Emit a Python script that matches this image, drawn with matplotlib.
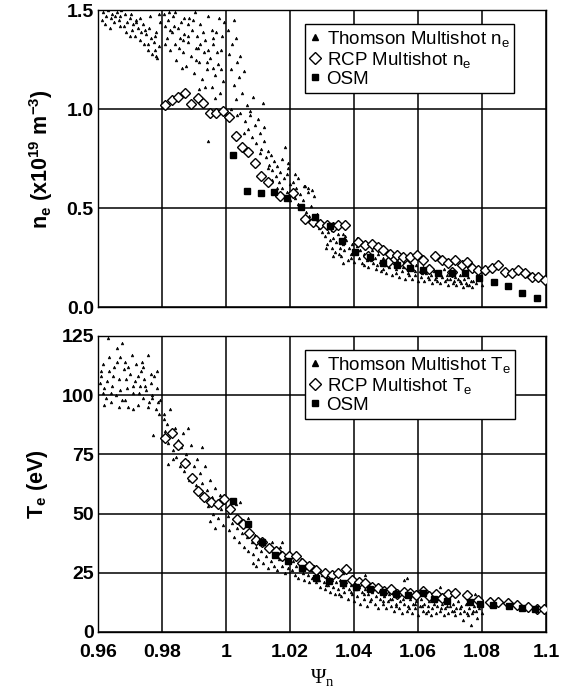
import matplotlib
matplotlib.use("Agg")
import numpy as np
import matplotlib.pyplot as plt
from matplotlib.lines import Line2D

plt.rcParams['font.family'] = ['Liberation Sans', 'DejaVu Sans']
plt.rcParams['mathtext.default'] = 'regular'

# ---- density panel data (psi_n, n_e) ----
ts_ne_psi = [0.9615, 0.9625, 0.963, 0.964, 0.9645, 0.965, 0.966, 0.9665, 0.967, 0.968, 0.9685, 0.969, 0.970, 0.9705,
             0.971, 0.9715, 0.972, 0.9725, 0.973, 0.9735, 0.974, 0.9745, 0.975, 0.9755, 0.976, 0.9765, 0.977, 0.9775,
             0.978, 0.9785, 0.979, 0.9795, 0.9699, 0.9777, 0.978, 0.9756,
             0.9805, 0.981, 0.9815, 0.982, 0.9825, 0.983, 0.9835, 0.984, 0.9845, 0.985, 0.9855, 0.986, 0.9865, 0.987,
             0.9875, 0.988, 0.9885, 0.989, 0.9895, 0.990, 0.9905, 0.991, 0.9915, 0.992, 0.9925, 0.993, 0.9935, 0.994,
             0.9945, 0.995, 0.9955, 0.996, 0.9965, 0.997, 0.9975, 0.998, 0.9985, 0.999, 0.9995, 0.9825, 0.9865, 0.9905,
             0.9945, 0.9985, 0.984, 0.988, 0.992, 0.996, 0.9915, 0.9955, 0.9965, 0.9933, 0.9943,
             1.0005, 1.001, 1.0015, 1.002, 1.0025, 1.003, 1.0035, 1.004, 1.0045, 1.005, 1.0055, 1.006, 1.0065, 1.007,
             1.0075, 1.008, 1.0085, 1.009, 1.0095, 1.010, 1.0015, 1.0035, 1.0055, 1.0075, 1.0045, 1.0025, 1.003,
             1.0105, 1.011, 1.0117, 1.012, 1.0125, 1.013, 1.0135, 1.014, 1.0145, 1.015, 1.0155, 1.016, 1.0165, 1.017,
             1.0175, 1.018, 1.0185, 1.019, 1.0195, 1.020, 1.0175, 1.016, 1.0145, 1.013, 1.0185, 1.019, 1.020, 1.0195,
             1.0105, 1.012,
             1.0205, 1.021, 1.0215, 1.022, 1.0225, 1.023, 1.0235, 1.024, 1.0245, 1.025, 1.0255, 1.026, 1.0265, 1.027,
             1.0275, 1.028, 1.0285, 1.029, 1.0295, 1.030, 1.0215, 1.0225, 1.027, 1.0247, 1.0257,
             1.031, 1.0315, 1.032, 1.0325, 1.033, 1.0335, 1.034, 1.0345, 1.035, 1.0355, 1.036, 1.0365, 1.037, 1.0375,
             1.038, 1.0385, 1.039, 1.0395, 1.040, 1.0405, 1.041, 1.0415, 1.042, 1.0425, 1.043, 1.0435, 1.044, 1.0445,
             1.045, 1.0455, 1.046, 1.0465, 1.047, 1.0475, 1.048, 1.0485, 1.049, 1.0495, 1.050, 1.0505, 1.051, 1.0515,
             1.052, 1.0525, 1.053, 1.0535, 1.054, 1.0545, 1.055, 1.0555, 1.056, 1.0565, 1.057, 1.0575, 1.058, 1.0585,
             1.059, 1.0595, 1.060, 1.0605, 1.061, 1.0615, 1.062, 1.0625, 1.063, 1.0635, 1.064, 1.0645, 1.065, 1.0655,
             1.066, 1.0665, 1.067, 1.0675, 1.068, 1.0685, 1.069, 1.0695, 1.070, 1.0705, 1.071, 1.0715, 1.072, 1.0725,
             1.073, 1.0735, 1.074, 1.0745, 1.075, 1.0755, 1.076, 1.0765, 1.077, 1.078, 1.079, 1.080, 1.0335, 1.0365,
             1.041, 1.046, 1.051, 1.0365,
             0.9612, 0.9622, 0.9638, 0.9652, 0.9668, 0.9672, 0.9688, 0.9702, 0.9718, 0.9732, 0.9748, 0.9762, 0.9778,
             0.9792, 0.9808, 0.9822, 0.9838, 0.9852, 0.9868, 0.9882, 0.9898, 0.9912, 0.9928, 0.9942, 0.9958, 0.9972,
             0.9988, 0.9978, 0.9862, 0.9902,
             1.0312, 1.0332, 1.0352, 1.0372, 1.0392, 1.0412, 1.0432, 1.0452, 1.0472, 1.0492, 1.0512, 1.0532, 1.0552,
             1.0572, 1.0592, 1.0612, 1.0632, 1.0652, 1.0672, 1.0692, 1.0712, 1.0732, 1.0752, 1.0772]
ts_ne_val = [1.49, 1.47, 1.50, 1.46, 1.48, 1.44, 1.49, 1.45, 1.47, 1.42, 1.48, 1.44, 1.46, 1.40,
             1.43, 1.37, 1.45, 1.41, 1.35, 1.39, 1.43, 1.33, 1.38, 1.30, 1.41, 1.36, 1.28, 1.34,
             1.39, 1.26, 1.32, 1.44, 1.37, 1.30, 1.27, 1.33,
             1.48, 1.42, 1.36, 1.45, 1.30, 1.39, 1.47, 1.33, 1.25, 1.41, 1.36, 1.44, 1.29, 1.38,
             1.22, 1.34, 1.46, 1.27, 1.40, 1.18, 1.31, 1.37, 1.24, 1.43, 1.15, 1.29, 1.35, 1.20,
             1.47, 1.26, 1.11, 1.33, 1.17, 1.39, 1.23, 1.08, 1.30, 1.14, 1.44, 1.40, 1.35, 1.25,
             1.30, 1.20, 1.49, 1.43, 1.33, 1.21, 1.10, 1.40, 1.055, 1.11, 0.84,
             1.40, 1.28, 1.20, 1.33, 1.12, 1.05, 1.24, 1.16, 0.98, 1.08, 1.19, 0.94, 1.02, 0.90,
             0.97, 0.86, 1.06, 0.92, 0.83, 0.95, 1.00, 0.97, 0.88, 0.99, 1.27, 1.45, 1.36,
             0.88, 0.80, 1.03, 0.84, 0.76, 0.79, 0.72, 0.77, 0.69, 0.74, 0.66, 0.71, 0.63, 0.68,
             0.60, 0.65, 0.81, 0.58, 0.73, 0.62, 0.75, 0.60, 0.64, 0.70, 0.56, 0.67, 0.54, 0.70,
             0.78, 0.91,
             0.58, 0.63, 0.55, 0.60, 0.52, 0.57, 0.50, 0.54, 0.61, 0.48, 0.58, 0.46, 0.51, 0.44,
             0.56, 0.42, 0.47, 0.40, 0.44, 0.38, 0.67, 0.65, 0.59, 0.61, 0.60,
             0.36, 0.32, 0.38, 0.34, 0.30, 0.35, 0.28, 0.33, 0.37, 0.30, 0.26, 0.32, 0.29, 0.34,
             0.24, 0.30, 0.27, 0.32, 0.23, 0.28, 0.31, 0.25, 0.29, 0.22, 0.27, 0.30, 0.24, 0.20,
             0.26, 0.29, 0.22, 0.25, 0.19, 0.27, 0.23, 0.18, 0.25, 0.21, 0.17, 0.24, 0.20, 0.26,
             0.16, 0.22, 0.19, 0.24, 0.15, 0.21, 0.18, 0.23, 0.14, 0.20, 0.17, 0.22, 0.14, 0.19,
             0.16, 0.21, 0.13, 0.18, 0.15, 0.20, 0.13, 0.17, 0.19, 0.14, 0.16, 0.12, 0.18, 0.15,
             0.13, 0.17, 0.12, 0.15, 0.19, 0.13, 0.16, 0.11, 0.14, 0.17, 0.12, 0.15, 0.11, 0.14,
             0.16, 0.12, 0.10, 0.14, 0.12, 0.15, 0.11, 0.13, 0.10, 0.12, 0.14, 0.11, 0.26, 0.22,
             0.35, 0.31, 0.28, 0.37,
             1.45, 1.43, 1.41, 1.47, 1.42, 1.50, 1.39, 1.48, 1.44, 1.46, 1.40, 1.47, 1.37,
             1.48, 1.33, 1.49, 1.42, 1.31, 1.46, 1.37, 1.45, 1.31, 1.39, 1.24, 1.36, 1.29,
             1.37, 1.46, 1.21, 1.49,
             0.30, 0.39, 0.27, 0.36, 0.25, 0.29, 0.21, 0.24, 0.21, 0.19, 0.22, 0.17, 0.20,
             0.16, 0.18, 0.17, 0.15, 0.14, 0.16, 0.14, 0.13, 0.13, 0.11, 0.13]

rcp_ne_psi = [0.9809, 0.9830, 0.985, 0.9872, 0.989, 0.9911, 0.9928, 0.995, 0.997, 0.999, 1.001, 1.003, 1.005,
              1.007, 1.009, 1.011, 1.013, 1.017, 1.021, 1.0247, 1.0273, 1.0295, 1.0315, 1.0335, 1.0351, 1.0372,
              1.0413, 1.0434, 1.0455, 1.0476, 1.049, 1.0513, 1.0534, 1.0554, 1.0576, 1.0596, 1.0617, 1.0653,
              1.0674, 1.0695, 1.0716, 1.0737, 1.0752, 1.0768, 1.0788, 1.0809, 1.083, 1.0851, 1.0872, 1.0893,
              1.0913, 1.0934, 1.0955, 1.0976, 1.0997, 1.0445, 1.0505, 1.0565, 1.0635, 1.0705]
rcp_ne_val = [1.02, 1.045, 1.06, 1.08, 1.025, 1.055, 1.03, 0.98, 0.98, 0.99, 0.96, 0.865, 0.81,
              0.785, 0.73, 0.66, 0.63, 0.56, 0.575, 0.443, 0.43, 0.42, 0.414, 0.405, 0.414, 0.414,
              0.33, 0.313, 0.32, 0.305, 0.29, 0.27, 0.265, 0.254, 0.254, 0.263, 0.237, 0.257,
              0.237, 0.22, 0.237, 0.212, 0.229, 0.195, 0.187, 0.187, 0.195, 0.212, 0.178, 0.17,
              0.187, 0.17, 0.153, 0.153, 0.136, 0.26, 0.23, 0.21, 0.19, 0.175]

osm_ne_psi = [1.0023, 1.0065, 1.0108, 1.015, 1.0192, 1.0233, 1.0278, 1.0325, 1.0361, 1.0403, 1.045, 1.0492,
              1.0534, 1.0575, 1.0617, 1.0663, 1.0705, 1.0747, 1.0789, 1.0836, 1.0882, 1.0924, 1.0971]
osm_ne_val = [0.77, 0.587, 0.574, 0.58, 0.55, 0.507, 0.456, 0.41, 0.335, 0.28, 0.254, 0.22,
              0.212, 0.195, 0.187, 0.17, 0.17, 0.17, 0.145, 0.128, 0.106, 0.07, 0.045]

# ---- temperature panel data (psi_n, T_e) ----
ts_te_psi = [0.9605, 0.961, 0.9615, 0.962, 0.9625, 0.963, 0.9635, 0.964, 0.9645, 0.965, 0.9655, 0.966, 0.9665,
             0.967, 0.9675, 0.968, 0.9685, 0.969, 0.9695, 0.970, 0.9705, 0.971, 0.9715, 0.972, 0.9725, 0.973,
             0.9735, 0.974, 0.9745, 0.975, 0.9755, 0.976, 0.9765, 0.977, 0.9775, 0.978, 0.9785, 0.979, 0.9795,
             0.9615, 0.9635, 0.9665, 0.9695, 0.9725, 0.9755, 0.9785, 0.9805, 0.962, 0.964, 0.9685, 0.971, 0.974,
             0.9765, 0.9675, 0.9772,
             0.9805, 0.981, 0.9815, 0.982, 0.9825, 0.983, 0.9835, 0.984, 0.9845, 0.985, 0.9855, 0.986, 0.9865,
             0.987, 0.9875, 0.988, 0.9885, 0.989, 0.9895, 0.990, 0.9905, 0.991, 0.9915, 0.992, 0.9925, 0.993,
             0.9935, 0.994, 0.9945, 0.995, 0.9955, 0.996, 0.9965, 0.997, 0.9975, 0.998, 0.9985, 0.999, 0.9995,
             0.982, 0.9835, 0.995, 0.9965, 0.9924, 0.988,
             1.0005, 1.001, 1.0015, 1.002, 1.0025, 1.003, 1.0035, 1.004, 1.0045, 1.005, 1.0055, 1.006, 1.0065,
             1.007, 1.0075, 1.008, 1.0085, 1.009, 1.0095, 1.010, 1.0045, 1.003, 1.007,
             1.0105, 1.011, 1.0115, 1.012, 1.0125, 1.013, 1.0135, 1.014, 1.0145, 1.015, 1.0155, 1.016, 1.0165,
             1.017, 1.0175, 1.018, 1.0185, 1.019, 1.0195, 1.020, 1.0085, 1.0095, 1.0175,
             1.0205, 1.021, 1.0215, 1.022, 1.0225, 1.023, 1.0235, 1.024, 1.0245, 1.025, 1.0255, 1.026, 1.0265,
             1.027, 1.0275, 1.028, 1.0285, 1.029, 1.0295, 1.030,
             1.0305, 1.031, 1.0315, 1.032, 1.0325, 1.033, 1.0335, 1.034, 1.0345, 1.035, 1.0355, 1.036, 1.0365,
             1.037, 1.0375, 1.038, 1.0385, 1.039, 1.0395, 1.040, 1.0405, 1.041, 1.0415, 1.042, 1.0425, 1.043,
             1.0435, 1.044, 1.0445, 1.045, 1.0455, 1.046, 1.0465, 1.047, 1.0475, 1.048, 1.0485, 1.049, 1.0495,
             1.050, 1.0505, 1.051, 1.0515, 1.052, 1.0525, 1.053, 1.0535, 1.054, 1.0545, 1.055, 1.0555, 1.056,
             1.0565, 1.057, 1.0575, 1.058, 1.0585, 1.059, 1.0595, 1.060, 1.0605, 1.061, 1.0615, 1.062, 1.0625,
             1.063, 1.0635, 1.064, 1.0645, 1.065, 1.0655, 1.066, 1.0665, 1.067, 1.0675, 1.068, 1.0685, 1.069,
             1.0695, 1.070, 1.0705, 1.071, 1.0715, 1.072, 1.0725, 1.073, 1.0735, 1.074, 1.0745, 1.075, 1.0755,
             1.076, 1.0765, 1.077, 1.0775, 1.078, 1.0785, 1.079, 1.080, 1.0565, 1.0435, 1.0669, 1.0778, 1.0555,
             1.0365,
             0.9608, 0.9628, 0.9648, 0.9668, 0.9688, 0.9708, 0.9728, 0.9748, 0.9768, 0.9788, 0.9658, 0.9738,
             1.0312, 1.0332, 1.0352, 1.0372, 1.0392, 1.0412, 1.0432, 1.0452, 1.0472, 1.0492, 1.0512, 1.0532,
             1.0552, 1.0572, 1.0592, 1.0612, 1.0632, 1.0652, 1.0672, 1.0692, 1.0712, 1.0732, 1.0752, 1.0772]
ts_te_val = [105, 108, 101, 103, 99, 124, 110, 97, 104, 112, 100, 120, 107,
             116, 98, 111, 114, 103, 95, 109, 117, 101, 106, 113, 96, 104,
             110, 99, 107, 102, 117, 97, 105, 100, 108, 94, 103, 92, 98,
             113, 116, 95, 112, 108, 95, 110, 90, 96, 101, 98, 94, 112,
             109, 122, 83,
             92, 85, 88, 80, 94, 83, 77, 86, 74, 81, 70, 78, 84,
             68, 75, 72, 64, 79, 66, 70, 62, 73, 59, 67, 63, 56,
             70, 60, 53, 64, 57, 50, 61, 54, 48, 58, 52, 45, 55,
             71, 73, 47, 44, 78, 86,
             49, 43, 52, 46, 40, 49, 44, 38, 47, 42, 36, 45, 40,
             34, 43, 38, 33, 41, 36, 31, 55, 54, 48,
             39, 34, 29, 37, 32, 27, 35, 30, 38, 28, 33, 26, 31,
             36, 28, 33, 25, 30, 27, 32, 29, 28, 38,
             26, 30, 24, 28, 23, 27, 31, 25, 22, 27, 24, 21, 26,
             23, 28, 21, 25, 22, 19, 24,
             21, 18, 23, 20, 17, 22, 19, 16, 21, 18, 22, 15, 19,
             17, 21, 14, 18, 20, 16, 13, 18, 15, 19, 12, 17, 14,
             18, 11, 16, 13, 17, 19, 12, 15, 10, 14, 17, 12, 15,
             10, 13, 16, 11, 14, 9, 12, 16, 10, 13, 8, 12, 15,
             9, 11, 14, 8, 12, 10, 13, 7, 11, 14, 9, 12, 8,
             11, 13, 7, 10, 12, 8, 11, 14, 9, 12, 7, 10, 13,
             8, 11, 9, 12, 7, 10, 13, 8, 11, 5, 9, 12, 7,
             10, 3, 8, 11, 9, 6, 10, 8, 23, 24, 19, 16, 22,
             25,
             110, 106, 108, 102, 107, 104, 101, 104, 99, 97, 114, 114,
             20, 24, 16, 20, 17, 21, 16, 14, 18, 13, 14, 11,
             14, 10, 12, 11, 9, 13, 10, 11, 9, 10, 8, 9]

rcp_te_psi = [0.9809, 0.983, 0.985, 0.9872, 0.9893, 0.9912, 0.9932, 0.9953, 0.9974, 0.9995, 1.0013, 1.0033,
              1.0052, 1.0072, 1.0093, 1.0113, 1.0134, 1.0155, 1.0176, 1.0197, 1.0218, 1.0238, 1.026, 1.028,
              1.031, 1.033, 1.0351, 1.0375, 1.0395, 1.0415, 1.0435, 1.0455, 1.0475, 1.0495, 1.0515, 1.0535,
              1.0555, 1.0575, 1.0595, 1.0615, 1.0635, 1.0655, 1.0675, 1.0695, 1.0716, 1.0752, 1.0788, 1.0825,
              1.0851, 1.0882, 1.0908, 1.0945, 1.0971, 1.0992]
rcp_te_val = [82, 84, 79, 71.5, 65, 59.5, 57, 55, 54, 56, 52, 47.5,
              45.7, 41.8, 39, 37.8, 35.5, 34, 32.2, 32, 32.2, 29, 27.7, 26.3,
              24.9, 24.2, 24.9, 26.6, 22, 21, 20.5, 19, 18.5, 17.5, 18, 16,
              17, 16.5, 15.5, 17.5, 15, 16, 14.5, 16, 16.4, 15.7, 13.6, 12.8,
              12.8, 12.2, 11.4, 10.4, 9.6, 9.6]

osm_te_psi = [1.0023, 1.0068, 1.0111, 1.0153, 1.0195, 1.0238, 1.0281, 1.0323, 1.0367, 1.0405, 1.045, 1.049,
              1.053, 1.057, 1.0617, 1.065, 1.069, 1.0763, 1.0795, 1.0835, 1.0885, 1.0924, 1.0965]
osm_te_val = [55.2, 45.8, 37.8, 32.6, 29.8, 27, 22.7, 21.7, 20.6, 19, 18, 17,
              16, 15.5, 16.4, 14, 13, 12.8, 12, 11.5, 11, 10, 9.8]

xticks = [0.96, 0.98, 1.00, 1.02, 1.04, 1.06, 1.08, 1.10]
xtick_labels = ['0.96', '0.98', '1', '1.02', '1.04', '1.06', '1.08', '1.1']

fig = plt.figure(figsize=(5.73, 6.97), dpi=100)
ax1 = fig.add_axes([0.171, 0.5595, 0.782, 0.426])
ax2 = fig.add_axes([0.171, 0.0933, 0.782, 0.4247])

panels = [
    (ax1, ts_ne_psi, ts_ne_val, rcp_ne_psi, rcp_ne_val, osm_ne_psi, osm_ne_val,
     [0.0, 0.5, 1.0, 1.5], ['0.0', '0.5', '1.0', '1.5'], r'n$_e$ (x10$^{19}$ m$^{-3}$)', 'n$_e$'),
    (ax2, ts_te_psi, ts_te_val, rcp_te_psi, rcp_te_val, osm_te_psi, osm_te_val,
     [0, 25, 50, 75, 100, 125], ['0', '25', '50', '75', '100', '125'], r'T$_e$ (eV)', 'T$_e$'),
]

for ax, tx, ty, rx, ry, ox, oy, yt, ytl, ylab, sym in panels:
    ax.plot(tx, ty, ls='none', marker='^', ms=2.0, mfc='black', mec='black', mew=0.4, zorder=3)
    ax.plot(rx, ry, ls='none', marker='D', ms=5.5, mfc='white', mec='black', mew=1.0, zorder=4)
    ax.plot(ox, oy, ls='none', marker='s', ms=5, mfc='black', mec='black', zorder=5)
    ax.set_xlim(0.96, 1.10)
    ax.set_ylim(yt[0], yt[-1])
    ax.set_xticks(xticks)
    ax.set_yticks(yt)
    ax.set_yticklabels(ytl, fontsize=14, fontweight='bold')
    ax.grid(True, color='black', lw=1.1)
    ax.set_axisbelow(True)
    ax.tick_params(axis='y', length=0, pad=3)
    ax.tick_params(axis='x', length=0, pad=9)
    for s in ax.spines.values():
        s.set_linewidth(1.0)
    ax.set_ylabel(ylab, fontsize=15.5, fontweight='bold', labelpad=8)
    handles = [
        Line2D([], [], ls='none', marker='^', ms=4, mfc='black', mec='black'),
        Line2D([], [], ls='none', marker='D', ms=6, mfc='white', mec='black', mew=1.0),
        Line2D([], [], ls='none', marker='s', ms=5, mfc='black', mec='black'),
    ]
    leg = ax.legend(handles, ['Thomson Multishot ' + sym, 'RCP Multishot ' + sym, 'OSM'],
                    loc='upper left', bbox_to_anchor=(0.462, 0.952), fontsize=13.5,
                    frameon=True, fancybox=False, framealpha=1, edgecolor='black',
                    handlelength=0.6, handletextpad=0.3, borderpad=0.25, labelspacing=0.05,
                    borderaxespad=0)
    leg.get_frame().set_linewidth(1.0)

ax1.set_xticklabels([])
ax2.set_xticklabels(xtick_labels, fontsize=14, fontweight='bold')
ax2.set_xlabel('Ψ$_n$', fontsize=15, family=['Liberation Serif', 'DejaVu Serif'], labelpad=4)

fig.savefig('out.png', dpi=100)
